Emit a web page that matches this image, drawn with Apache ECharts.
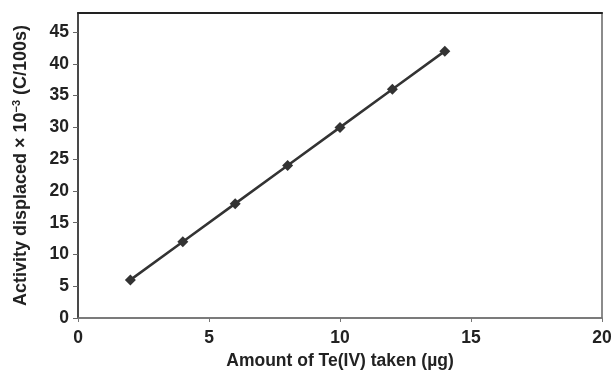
<!DOCTYPE html>
<html>
<head>
<meta charset="utf-8">
<script src="https://cdn.jsdelivr.net/npm/echarts@6/dist/echarts.min.js"></script>
<style>
html, body { margin: 0; padding: 0; background: #fff; }
#chart { width: 613px; height: 372px; }
</style>
</head>
<body>
<div id="chart"></div>
<script>
// data
const amountTe = [2, 4, 6, 8, 10, 12, 14];        // µg
const activity = [6, 12, 18, 24, 30, 36, 42];     // x10^-3 C/100s
const xTicks = [0, 5, 10, 15, 20];
const yTicks = [0, 5, 10, 15, 20, 25, 30, 35, 40, 45];

const font = 'Liberation Sans, Arial, Helvetica, sans-serif';
let points = amountTe.map(function (x, i) { return [x, activity[i]]; });

let myChart = echarts.init(document.getElementById('chart'));
let option = {
    animation: false,
    backgroundColor: '#fff',
    grid: {
        left: 78, right: 11, top: 13, bottom: 54,
        outerBoundsMode: 'none',
        show: true, borderColor: '#666', borderWidth: 1.5
    },
    xAxis: [{
        type: 'value',
        min: 0, max: 20, interval: 5,
        name: 'Amount of Te(IV) taken (µg)',
        nameLocation: 'middle', nameGap: 33,
        nameTextStyle: { fontFamily: font, fontWeight: 'bold', fontSize: 17.5, color: '#222' },
        axisLine: { show: true, lineStyle: { color: '#777', width: 1.5 } },
        axisTick: { show: true, inside: false, length: 4, lineStyle: { color: '#777' } },
        axisLabel: {
            margin: 11, fontFamily: font, fontWeight: 'bold', fontSize: 17.5, color: '#222',
            formatter: function (v) { return xTicks.indexOf(v) >= 0 ? String(v) : ''; }
        },
        splitLine: { show: false }
    }, {
        type: 'value', position: 'top',
        min: 0, max: 20,
        axisLine: { show: true, lineStyle: { color: '#222', width: 2 } },
        axisTick: { show: false }, axisLabel: { show: false }, splitLine: { show: false }
    }],
    yAxis: {
        type: 'value',
        min: 0, max: 48, interval: 5,
        name: 'Activity displaced × 10{sup|−3} (C/100s)',
        nameLocation: 'middle', nameGap: 47,
        nameTextStyle: {
            fontFamily: font, fontWeight: 'bold', fontSize: 18, color: '#222',
            rich: { sup: { fontFamily: font, fontWeight: 'bold', fontSize: 11, color: '#222', verticalAlign: 'bottom', padding: [0, 0, 9, 0] } }
        },
        axisLine: { show: true, lineStyle: { color: '#333', width: 1.5 } },
        axisTick: { show: true, length: 5, lineStyle: { color: '#666' } },
        axisLabel: {
            margin: 9, fontFamily: font, fontWeight: 'bold', fontSize: 17.5, color: '#222',
            showMaxLabel: false,
            formatter: function (v) { return yTicks.indexOf(v) >= 0 ? String(v) : ''; }
        },
        splitLine: { show: false }
    },
    series: [{
        type: 'line',
        data: points,
        symbol: 'diamond',
        symbolSize: 11,
        lineStyle: { color: '#333', width: 2.5 },
        itemStyle: { color: '#333' }
    }]
};
myChart.setOption(option);
</script>
</body>
</html>
